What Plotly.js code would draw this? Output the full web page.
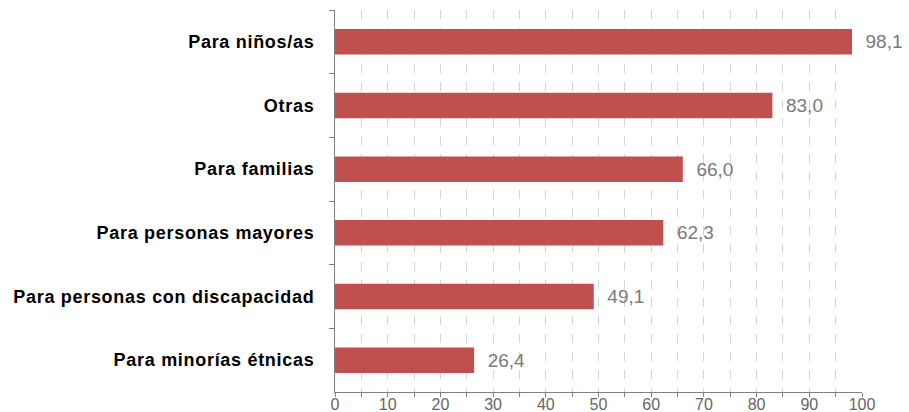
<!DOCTYPE html>
<html>
<head>
<meta charset="utf-8">
<script src="https://cdn.plot.ly/plotly-3.0.1.min.js"></script>
<style>
html,body{margin:0;padding:0;background:#fff;}
#chart{width:909px;height:412px;}
#chart .ytick text{letter-spacing:0.7px;}
</style>
</head>
<body>
<div id="chart"></div>
<script>
const categories = ["Para niños/as", "Otras", "Para familias", "Para personas mayores", "Para personas con discapacidad", "Para minorías étnicas"];
const values = [98.1, 83.0, 66.0, 62.3, 49.1, 26.4];
const xTickValues = [0, 10, 20, 30, 40, 50, 60, 70, 80, 90, 100];

const trace = {
  type: 'bar',
  orientation: 'h',
  y: categories,
  x: values,
  marker: {color: '#C0504D', line: {color: '#C0504D', width: 0}},
  width: 0.4,
  texttemplate: '\u00a0\u00a0%{x:.1f}',
  textposition: 'outside',
  textfont: {family: 'Liberation Sans, Arial, sans-serif', size: 19, color: '#7A7A7A'},
  cliponaxis: false,
  hoverinfo: 'none'
};

const layout = {
  width: 909, height: 412,
  margin: {l: 335, r: 47, t: 10, b: 20},
  paper_bgcolor: '#fff', plot_bgcolor: '#fff',
  separators: ',.',
  showlegend: false,
  font: {family: 'Liberation Sans, Arial, sans-serif'},
  xaxis: {
    range: [0, 100],
    tickvals: xTickValues,
    ticktext: xTickValues.map(String),
    showgrid: true,
    gridcolor: '#D4D4D4',
    griddash: 'dash',
    gridwidth: 1,
    showline: true,
    linecolor: '#808080',
    linewidth: 1,
    ticks: 'outside',
    ticklen: 4,
    tickcolor: '#808080',
    tickfont: {size: 16, color: '#666666'},
    ticklabelstandoff: -6,
    zeroline: false,
    minor: {dtick: 5, tick0: 0, showgrid: true, gridcolor: '#D4D4D4', griddash: 'dash', ticks: 'outside', ticklen: 4, tickcolor: '#808080'},
    fixedrange: true
  },
  yaxis: {
    autorange: 'reversed',
    type: 'category',
    showline: true,
    linecolor: '#808080',
    linewidth: 1,
    ticks: 'outside',
    tickson: 'boundaries',
    ticklen: 5,
    tickcolor: '#808080',
    tickfont: {size: 18, color: '#000000', weight: 'bold'},
    ticklabelstandoff: 16,
    showgrid: false,
    fixedrange: true
  }
};

Plotly.newPlot('chart', [trace], layout, {displayModeBar: false, staticPlot: true});
</script>
</body>
</html>
